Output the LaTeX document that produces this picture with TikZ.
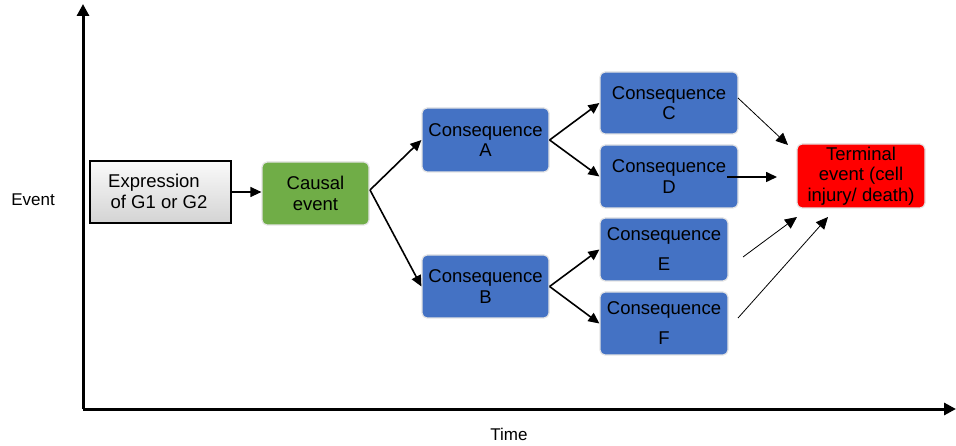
\documentclass[tikz,border=0pt]{standalone}
\usepackage{fontspec}
\setmainfont{Liberation Sans}
\usetikzlibrary{arrows.meta}
\definecolor{cblue}{HTML}{4472C4}
\definecolor{cgreen}{HTML}{70AD47}
\definecolor{cred}{HTML}{FF0000}
\definecolor{cborder}{HTML}{E4E4E4}
\begin{document}
\begin{tikzpicture}[x=1pt,y=-1pt,
  every node/.style={font=\fontsize{18.5}{20.5}\selectfont, text=black, align=center, inner sep=0pt},
  rbox/.style={draw=cborder, line width=1.2pt, rounded corners=5pt},
  bluebox/.style={rbox, fill=cblue},
  axis/.style={line width=3pt, -{Triangle[length=12pt,width=12pt]}},
  conn/.style={line width=1.6pt, -{Triangle[length=11pt,width=10pt]}},
  thin conn/.style={line width=0.8pt, -{Triangle[length=12pt,width=11pt]}}
]
\useasboundingbox (0,0) rectangle (956,446);
% axes
\coordinate (O) at (83,409);
\coordinate (ytop) at (83,4);
\coordinate (xend) at (956,409);
\draw[axis] (O) -- (ytop);
\draw[axis] (O) -- (xend);
\node (evlab) at (33,200) {\fontsize{17}{19}\selectfont Event};
\node (tmlab) at (509,434) {\fontsize{17}{19}\selectfont Time};
% boxes
\node[draw=black, line width=1.5pt, top color=black!2, bottom color=black!17, minimum width=141pt, minimum height=62pt] (ex) at (160.5,192) {};
\node (extxt) at (154,191.5) {Expression\\\hspace*{10pt}of G1 or G2};
\node[rbox, fill=cgreen, minimum width=107pt, minimum height=63pt] (ca) at (315.5,193.5) {Causal\\event};
\node[bluebox, minimum width=127pt, minimum height=64pt] (A) at (485.5,140) {Consequence\\A};
\node[bluebox, minimum width=127pt, minimum height=63pt] (B) at (485.5,286.5) {Consequence\\B};
\node[bluebox, minimum width=138pt, minimum height=62pt] (C) at (669,103) {Consequence\\C};
\node[bluebox, minimum width=138pt, minimum height=63pt] (D) at (669,176.5) {Consequence\\D};
\node[bluebox, minimum width=128pt, minimum height=63pt, font=\fontsize{18.5}{30}\selectfont] (E) at (664,249.5) {Consequence\\E};
\node[bluebox, minimum width=128pt, minimum height=63pt, font=\fontsize{18.5}{30}\selectfont] (F) at (664,323.5) {Consequence\\F};
\node[rbox, fill=cred, minimum width=128pt, minimum height=64pt] (T) at (861,176) {Terminal\\event (cell\\injury/ death)};
% connectors
\draw[conn, line width=1.2pt] (ex.east) -- (ca.west |- ex.east);
\coordinate (cs) at (370,190);
\draw[conn] (cs) -- (A.west);
\draw[conn] (cs) -- (B.west);
\draw[conn] (A.east) -- (C.west);
\draw[conn] (A.east) -- (D.west);
\draw[conn] (B.east) -- (E.west);
\draw[conn] (B.east) -- (F.west);
\coordinate (c1) at (738,98);   \coordinate (t1) at (788,145);
\coordinate (d1) at (727,177);  \coordinate (t2) at (777,177);
\coordinate (e1) at (743,257);  \coordinate (t3) at (797,217);
\coordinate (f1) at (738,318);  \coordinate (t4) at (828,217);
\draw[thin conn] (c1) -- (t1);
\draw[conn] (d1) -- (t2);
\draw[thin conn] (e1) -- (t3);
\draw[thin conn] (f1) -- (t4);
\end{tikzpicture}
\end{document}
